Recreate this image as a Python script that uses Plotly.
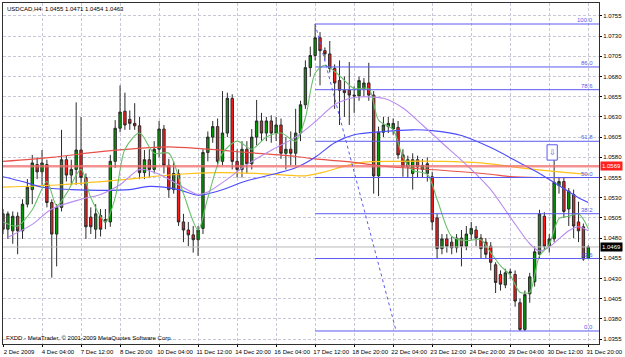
import plotly.graph_objects as go

# ---------------- data ----------------
tick_bars = [0, 8, 16, 24, 32, 40, 48, 56, 64, 72, 80, 88, 96, 104, 112, 120]
tick_labels = ["2 Dec 2009", "4 Dec 04:00", "7 Dec 12:00", "8 Dec 20:00", "10 Dec 04:00",
               "11 Dec 12:00", "14 Dec 20:00", "16 Dec 04:00", "17 Dec 12:00", "18 Dec 20:00",
               "22 Dec 04:00", "23 Dec 12:00", "24 Dec 20:00", "29 Dec 04:00", "30 Dec 12:00",
               "31 Dec 20:00"]

opens = [1.0510, 1.0491, 1.0489, 1.0507, 1.0489, 1.0522, 1.0540, 1.0571, 1.0562, 1.0571,
         1.0524, 1.0485, 1.0518, 1.0577, 1.0558, 1.0565, 1.0589, 1.0555, 1.0506, 1.0491,
         1.0508, 1.0503, 1.0500, 1.0575, 1.0616, 1.0637, 1.0627, 1.0622, 1.0619, 1.0561,
         1.0577, 1.0565, 1.0590, 1.0615, 1.0570, 1.0540, 1.0560, 1.0500, 1.0490, 1.0484,
         1.0478, 1.0492, 1.0586, 1.0605, 1.0618, 1.0575, 1.0610, 1.0653, 1.0575, 1.0565,
         1.0590, 1.0572, 1.0605, 1.0625, 1.0610, 1.0625, 1.0610, 1.0620, 1.0585, 1.0590,
         1.0585, 1.0610, 1.0645, 1.0691, 1.0706, 1.0728, 1.0712, 1.0708, 1.0690, 1.0675,
         1.0663, 1.0663, 1.0657, 1.0656, 1.0665, 1.0672, 1.0657, 1.0557, 1.0611, 1.0618,
         1.0615, 1.0617, 1.0583, 1.0568, 1.0560, 1.0577, 1.0565, 1.0560, 1.0556, 1.0505,
         1.0467, 1.0479, 1.0475, 1.0468, 1.0480, 1.0470, 1.0485, 1.0490, 1.0480, 1.0475,
         1.0470, 1.0447, 1.0435, 1.0422, 1.0437, 1.0435, 1.0400, 1.0367, 1.0411, 1.0426,
         1.0460, 1.0507, 1.0470, 1.0479, 1.0545, 1.0550, 1.0516, 1.0534, 1.0500, 1.0494,
         1.0455]
highs = [1.0516, 1.0513, 1.0513, 1.0512, 1.0528, 1.0553, 1.0583, 1.0580, 1.0589, 1.0577,
         1.0528, 1.0522, 1.0614, 1.0582, 1.0577, 1.0648, 1.0630, 1.0560, 1.0518, 1.0522,
         1.0516, 1.0516, 1.0583, 1.0626, 1.0669, 1.0660, 1.0638, 1.0647, 1.0630, 1.0589,
         1.0590, 1.0600, 1.0625, 1.0620, 1.0578, 1.0575, 1.0565, 1.0510, 1.0500, 1.0495,
         1.0495, 1.0590, 1.0612, 1.0625, 1.0628, 1.0662, 1.0660, 1.0658, 1.0590, 1.0600,
         1.0600, 1.0615, 1.0651, 1.0635, 1.0630, 1.0632, 1.0630, 1.0628, 1.0605, 1.0612,
         1.0640, 1.0650, 1.0700, 1.0717, 1.0745, 1.0735, 1.0716, 1.0724, 1.0695, 1.0700,
         1.0680, 1.0698, 1.0668, 1.0680, 1.0678, 1.0697, 1.0662, 1.0618, 1.0630, 1.0630,
         1.0628, 1.0625, 1.0590, 1.0582, 1.0585, 1.0582, 1.0578, 1.0580, 1.0562, 1.0510,
         1.0485, 1.0485, 1.0482, 1.0485, 1.0490, 1.0495, 1.0500, 1.0495, 1.0485, 1.0480,
         1.0475, 1.0450, 1.0440, 1.0442, 1.0442, 1.0440, 1.0405, 1.0415, 1.0437, 1.0470,
         1.0515, 1.0512, 1.0485, 1.0589, 1.0555, 1.0555, 1.0542, 1.0540, 1.0525, 1.0498,
         1.0471]
lows = [1.0485, 1.0479, 1.0473, 1.0460, 1.0479, 1.0518, 1.0522, 1.0553, 1.0546, 1.0518,
        1.0431, 1.0445, 1.0513, 1.0550, 1.0546, 1.0546, 1.0546, 1.0479, 1.0485, 1.0479,
        1.0482, 1.0491, 1.0494, 1.0567, 1.0611, 1.0614, 1.0614, 1.0614, 1.0553, 1.0553,
        1.0555, 1.0560, 1.0580, 1.0560, 1.0530, 1.0535, 1.0495, 1.0475, 1.0470, 1.0462,
        1.0458, 1.0485, 1.0575, 1.0598, 1.0568, 1.0570, 1.0605, 1.0565, 1.0555, 1.0555,
        1.0560, 1.0565, 1.0595, 1.0600, 1.0600, 1.0598, 1.0600, 1.0578, 1.0565, 1.0570,
        1.0570, 1.0600, 1.0640, 1.0680, 1.0700, 1.0669, 1.0700, 1.0685, 1.0640, 1.0620,
        1.0630, 1.0620, 1.0635, 1.0650, 1.0655, 1.0650, 1.0535, 1.0532, 1.0605, 1.0610,
        1.0608, 1.0578, 1.0556, 1.0555, 1.0540, 1.0555, 1.0555, 1.0550, 1.0490, 1.0455,
        1.0460, 1.0462, 1.0460, 1.0462, 1.0445, 1.0465, 1.0478, 1.0470, 1.0455, 1.0455,
        1.0440, 1.0412, 1.0415, 1.0418, 1.0430, 1.0395, 1.0365, 1.0365, 1.0400, 1.0420,
        1.0455, 1.0465, 1.0462, 1.0475, 1.0535, 1.0505, 1.0495, 1.0480, 1.0475, 1.0452,
        1.0454]
closes = [1.0491, 1.0510, 1.0507, 1.0489, 1.0522, 1.0543, 1.0573, 1.0562, 1.0573, 1.0524,
          1.0485, 1.0518, 1.0577, 1.0558, 1.0565, 1.0589, 1.0555, 1.0494, 1.0494, 1.0510,
          1.0491, 1.0500, 1.0575, 1.0616, 1.0636, 1.0620, 1.0622, 1.0619, 1.0561, 1.0577,
          1.0565, 1.0590, 1.0615, 1.0570, 1.0540, 1.0560, 1.0500, 1.0490, 1.0484, 1.0478,
          1.0490, 1.0586, 1.0605, 1.0618, 1.0575, 1.0610, 1.0653, 1.0575, 1.0565, 1.0590,
          1.0572, 1.0605, 1.0625, 1.0610, 1.0625, 1.0610, 1.0620, 1.0585, 1.0590, 1.0585,
          1.0610, 1.0645, 1.0691, 1.0706, 1.0728, 1.0712, 1.0708, 1.0690, 1.0672, 1.0663,
          1.0660, 1.0657, 1.0656, 1.0675, 1.0672, 1.0657, 1.0557, 1.0611, 1.0620, 1.0622,
          1.0622, 1.0583, 1.0568, 1.0577, 1.0577, 1.0568, 1.0570, 1.0572, 1.0500, 1.0467,
          1.0479, 1.0470, 1.0468, 1.0480, 1.0470, 1.0485, 1.0492, 1.0480, 1.0467, 1.0460,
          1.0450, 1.0425, 1.0423, 1.0437, 1.0438, 1.0402, 1.0367, 1.0410, 1.0432, 1.0463,
          1.0510, 1.0470, 1.0479, 1.0549, 1.0550, 1.0513, 1.0538, 1.0495, 1.0489, 1.0454,
          1.0469]
bars = list(range(len(opens)))

# moving averages (bar index, price)
ma_green_bars = [0, 3, 6, 9, 11, 13, 16, 18, 21, 23, 25, 28, 31, 34, 37, 40, 42, 45, 48, 51,
                 54, 57, 60, 62, 64, 66, 69, 72, 75, 77, 80, 82, 84, 87, 89, 92, 95, 98, 100,
                 102, 104, 106, 108, 109, 110, 112, 114, 116, 118, 120]
ma_green = [1.0500, 1.0495, 1.0515, 1.0550, 1.0520, 1.0535, 1.0565, 1.0530, 1.0500, 1.0530,
            1.0590, 1.0610, 1.0585, 1.0585, 1.0535, 1.0490, 1.0530, 1.0585, 1.0600, 1.0590,
            1.0605, 1.0610, 1.0600, 1.0629, 1.0684, 1.0694, 1.0681, 1.0665, 1.0665, 1.0626,
            1.0614, 1.0580, 1.0564, 1.0559, 1.0528, 1.0482, 1.0477, 1.0478, 1.0462,
            1.0446, 1.0434, 1.0413, 1.0413, 1.0434, 1.0458, 1.0472, 1.0504, 1.0507, 1.0510, 1.0492]

ma_violet_bars = [1, 6, 10, 16, 20, 24, 28, 32, 36, 40, 42, 46, 50, 56, 60, 64, 68, 72, 78,
                  82, 86, 90, 96, 100, 104, 108, 110, 112, 116, 118, 120]
ma_violet = [1.0481, 1.0497, 1.0516, 1.0528, 1.0534, 1.0546, 1.0565, 1.0559, 1.0546, 1.0534,
             1.0537, 1.0553, 1.0571, 1.0592, 1.0605, 1.0624, 1.0645, 1.0654, 1.0653,
             1.0641, 1.0620, 1.0598, 1.0565, 1.0540, 1.0506, 1.0473, 1.0464, 1.0469, 1.0489,
             1.0494, 1.0489]

ma_blue_bars = [0, 4, 8, 14, 20, 26, 30, 36, 40, 44, 50, 56, 60, 64, 68, 72, 78, 84, 88, 94,
                100, 106, 110, 114, 118, 120]
ma_blue = [1.0556, 1.0550, 1.0543, 1.0540, 1.0539, 1.0540, 1.0544, 1.0540, 1.0533, 1.0538,
           1.0551, 1.0560, 1.0567, 1.0580, 1.0598, 1.0608, 1.0612, 1.0614, 1.0613, 1.0607,
           1.0592, 1.0573, 1.0560, 1.0545, 1.0530, 1.0524]

ma_red_bars = [0, 10, 20, 30, 34, 40, 50, 60, 64, 70, 80, 90, 100, 104, 110, 120]
ma_red = [1.0575, 1.0580, 1.0587, 1.0592, 1.0593, 1.0591, 1.0586, 1.0581, 1.0578, 1.0575,
          1.0568, 1.0564, 1.0559, 1.0556, 1.0555, 1.0555]

ma_yellow_bars = [0, 12, 24, 36, 44, 52, 58, 62, 66, 70, 74, 80, 90, 98, 106, 114, 120]
ma_yellow = [1.0543, 1.0546, 1.0552, 1.0559, 1.0561, 1.0560, 1.0558, 1.0557, 1.0562, 1.0569,
             1.0574, 1.0575, 1.0575, 1.0573, 1.0567, 1.0562, 1.0559]

fib_high = 1.0745
fib_low = 1.0365
fib_ratios = [0.0, 0.236, 0.382, 0.5, 0.618, 0.786, 0.86, 1.0]
fib_texts = ["0.0", "23.6", "38.2", "50.0", "61.8", "78.6", "86.0", "100.0"]
fib_start_bar = 64
fib_trend_end_bar = 80.6

hline_price = 1.0569
bid_price = 1.0469
arrow_bar = 112.6
arrow_price = 1.0586

y_ticks = [round(1.0355 + 0.0025 * k, 4) for k in range(17)]
title_text = "USDCAD,H4  1.0455 1.0471 1.0454 1.0463"
footer_text = "FXDD - MetaTrader, \u00a9 2001-2009 MetaQuotes Software Corp."

# ---------------- figure ----------------
X_RANGE = [0, 122.2]
Y_RANGE = [1.03489, 1.07710]
FONT = "Liberation Sans, Arial, sans-serif"
FIB_COLOR = "#5a5af0"

fig = go.Figure()

fig.add_trace(go.Candlestick(
    x=bars, open=opens, high=highs, low=lows, close=closes,
    increasing=dict(fillcolor="#009a00", line=dict(color="#2b2b2b", width=1)),
    decreasing=dict(fillcolor="#ff1a1a", line=dict(color="#2b2b2b", width=1)),
    whiskerwidth=0, showlegend=False, hoverinfo="skip"))

def ma_line(xs, ys, color, width=1.0):
    fig.add_trace(go.Scatter(x=xs, y=ys, mode="lines",
                             line=dict(color=color, width=width, shape="spline", smoothing=0.8),
                             showlegend=False, hoverinfo="skip"))

ma_line(ma_yellow_bars, ma_yellow, "#ffc21a", 1.2)
ma_line(ma_red_bars, ma_red, "#e8504a", 1.2)
ma_line(ma_blue_bars, ma_blue, "#4b4bff", 1.1)
ma_line(ma_violet_bars, ma_violet, "#b98af0", 1.1)
ma_line(ma_green_bars, ma_green, "#6abf6a", 1.1)

shapes = []
annotations = []

# horizontal level line and bid line
shapes.append(dict(type="line", xref="x", yref="y", x0=X_RANGE[0], x1=X_RANGE[1],
                   y0=hline_price, y1=hline_price, line=dict(color="rgba(240,110,110,0.75)", width=2.5)))
shapes.append(dict(type="line", xref="x", yref="y", x0=X_RANGE[0], x1=X_RANGE[1],
                   y0=bid_price, y1=bid_price, line=dict(color="#b8b8b8", width=1)))

# fibonacci levels
for r, t in zip(fib_ratios, fib_texts):
    lvl = fib_low + r * (fib_high - fib_low)
    shapes.append(dict(type="line", xref="x", yref="y", x0=fib_start_bar, x1=X_RANGE[1],
                       y0=lvl, y1=lvl, line=dict(color=FIB_COLOR, width=1)))
    annotations.append(dict(xref="paper", yref="y", x=1, y=lvl, text=t, showarrow=False,
                            xanchor="right", yanchor="bottom", xshift=-4, yshift=-1,
                            font=dict(family=FONT, size=6, color=FIB_COLOR)))
shapes.append(dict(type="line", xref="x", yref="y", x0=fib_start_bar, x1=fib_trend_end_bar,
                   y0=fib_high, y1=fib_low, line=dict(color=FIB_COLOR, width=1, dash="dot")))

# arrow object
shapes.append(dict(type="rect", xref="x", yref="y", x0=arrow_bar - 1.05, x1=arrow_bar + 1.05,
                   y0=arrow_price - 0.00095, y1=arrow_price + 0.00095,
                   line=dict(color=FIB_COLOR, width=1), fillcolor="white"))
annotations.append(dict(xref="x", yref="y", x=arrow_bar, y=arrow_price, text="\u21e9",
                        showarrow=False, font=dict(family="DejaVu Sans", size=8, color="#5a5ad0")))

# price boxes on the axis
annotations.append(dict(xref="paper", yref="y", x=1, y=hline_price, text="1.0569", showarrow=False,
                        xanchor="left", yanchor="middle", xshift=1, bgcolor="#ff2020", borderpad=1,
                        font=dict(family=FONT, size=6, color="white")))
annotations.append(dict(xref="paper", yref="y", x=1, y=bid_price, text="1.0469", showarrow=False,
                        xanchor="left", yanchor="middle", xshift=1, bgcolor="#000000", borderpad=1,
                        font=dict(family=FONT, size=6, color="white")))

# texts
annotations.append(dict(xref="paper", yref="paper", x=0, y=1, text=title_text, showarrow=False,
                        xanchor="left", yanchor="top", xshift=2, yshift=-1,
                        font=dict(family=FONT, size=6, color="black")))
annotations.append(dict(xref="paper", yref="paper", x=0, y=0, text=footer_text, showarrow=False,
                        xanchor="left", yanchor="bottom", xshift=1, yshift=1,
                        font=dict(family=FONT, size=6, color="black")))

grid = dict(showgrid=True, gridcolor="#c8c8d8", griddash="3px,2px", gridwidth=1)

fig.update_layout(
    width=625, height=357,
    margin=dict(l=2, r=22, t=2, b=11),
    paper_bgcolor="white", plot_bgcolor="white",
    font=dict(family=FONT, size=6, color="black"),
    shapes=shapes, annotations=annotations,
    showlegend=False,
    xaxis=dict(range=X_RANGE, tickmode="array", tickvals=tick_bars, ticktext=tick_labels,
               ticks="outside", ticklen=2, tickcolor="black", ticklabelshift=16,
               ticklabeloverflow="allow", showline=True, linecolor="#303030", mirror=True,
               zeroline=False, rangeslider=dict(visible=False), fixedrange=True,
               tickfont=dict(family=FONT, size=6), **grid),
    yaxis=dict(range=Y_RANGE, side="right", tickmode="array", tickvals=y_ticks,
               tickformat=".4f", ticks="outside", ticklen=2, tickcolor="black",
               showline=True, linecolor="#303030", mirror=True, zeroline=False,
               tickfont=dict(family=FONT, size=6), **grid),
)

fig.write_html("out.html")
